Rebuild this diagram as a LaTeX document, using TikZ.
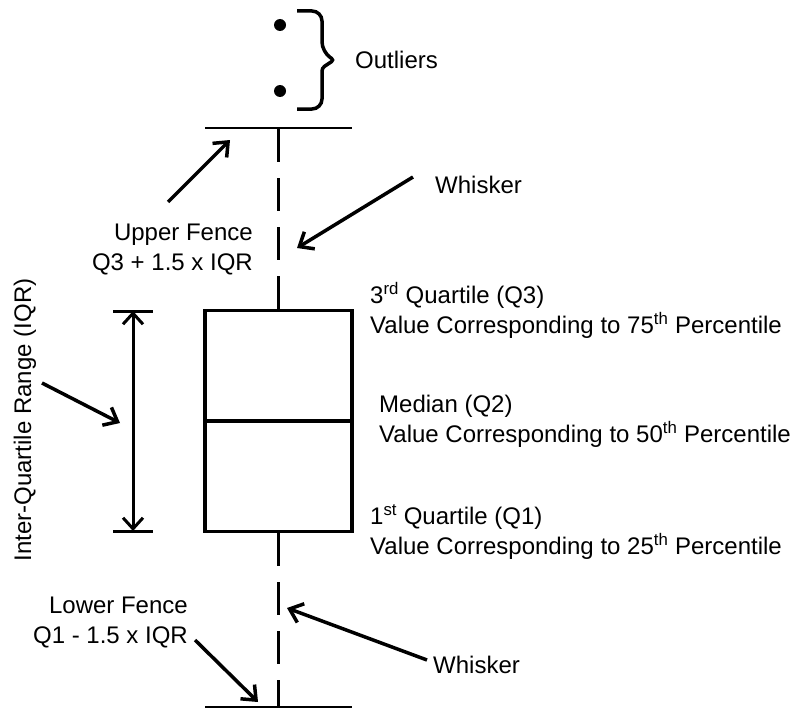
\documentclass[tikz,border=0pt]{standalone}
\usepackage{fontspec}
\setmainfont{Liberation Sans}
\usetikzlibrary{arrows.meta}

\begin{document}
\begin{tikzpicture}[x=1pt, y=-1pt, font=\fontsize{24}{30}\selectfont,
	lbl/.style={inner sep=0pt},
	pointer/.style={-{Straight Barb[length=12pt,width=20pt]}, line width=3.5pt},
	whisker/.style={line width=3pt, dash pattern=on 33pt off 16pt},
	fence/.style={line width=1.8pt},
	dot/.style={circle, fill, inner sep=0pt, minimum size=12pt}]
\useasboundingbox (0,0) rectangle (799,709);

% box and whiskers
\node[draw, line width=3.5pt, minimum width=147pt, minimum height=221pt, inner sep=0pt] (box) at (278.5,421) {};
\draw[line width=3.5pt] (box.west) -- (box.east);
\coordinate (uf) at (278.5,128);
\coordinate (lf) at (278.5,707);
\draw[fence] ([xshift=-73.5pt]uf) -- ([xshift=73.5pt]uf);
\draw[fence] ([xshift=-73.5pt]lf) -- ([xshift=73.5pt]lf);
\draw[whisker] (box.north) -- (uf);
\draw[whisker] (box.south) -- (lf);

% outliers
\node[dot] (out1) at (280,25) {};
\node[dot] (out2) at (280,91) {};
\coordinate (brTop) at (297,11);
\coordinate (brTip) at (334,60);
\coordinate (brBot) at (297,109);
\draw[line width=3.5pt, rounded corners=10pt] (brTop) -| (322,52)
  [rounded corners=3pt] -- (brTip) -- (322,68)
  [rounded corners=10pt] |- (brBot);

% IQR
\coordinate (iqrTop) at (133,311);
\coordinate (iqrBot) at (133,531);
\draw[line width=3pt] ([xshift=-20pt]iqrTop) -- ([xshift=20pt]iqrTop);
\draw[line width=3pt] ([xshift=-20pt]iqrBot) -- ([xshift=20pt]iqrBot);
\draw[line width=3pt, {Straight Barb[length=11pt,width=20pt]}-{Straight Barb[length=11pt,width=20pt]}] (iqrTop) -- (iqrBot);

% labels
\node[lbl, anchor=west] (outLbl) at (355,60) {Outliers};
\node[lbl, anchor=west] (whiskU) at (435,185) {Whisker};
\node[lbl, anchor=west] (whiskL) at (433,665) {Whisker};
\node[lbl, anchor=east, align=right] (ufLbl) at (253,250) {Upper Fence\\Q3 + 1.5 x IQR};
\node[lbl, anchor=east, align=right] (lfLbl) at (188,623) {Lower Fence\\Q1 - 1.5 x IQR};
\node[lbl, anchor=west, align=left] (q3Lbl) at (370,310) {3\textsuperscript{rd} Quartile (Q3)\\Value Corresponding to 75\textsuperscript{th} Percentile};
\node[lbl, anchor=west, align=left] (q2Lbl) at (379,421) {Median (Q2)\\Value Corresponding to 50\textsuperscript{th} Percentile};
\node[lbl, anchor=west, align=left] (q1Lbl) at (370,532) {1\textsuperscript{st} Quartile (Q1)\\Value Corresponding to 25\textsuperscript{th} Percentile};
\node[lbl, rotate=90] (iqrLbl) at (25,420) {Inter-Quartile Range (IQR)};

% pointers
\coordinate (ufFrom) at (168,202);  \coordinate (ufTo) at (230,140);
\coordinate (wuFrom) at (413,177);  \coordinate (wuTo) at (297,248);
\coordinate (iqFrom) at (42,383);   \coordinate (iqTo) at (120,423);
\coordinate (lfFrom) at (195,640);  \coordinate (lfTo) at (258,702);
\coordinate (wlFrom) at (427,660);  \coordinate (wlTo) at (287,608);
\path[pointer]
(ufFrom) edge (ufTo)
(wuFrom) edge (wuTo)
(iqFrom) edge (iqTo)
(lfFrom) edge (lfTo)
(wlFrom) edge (wlTo);
\end{tikzpicture}
\end{document}
